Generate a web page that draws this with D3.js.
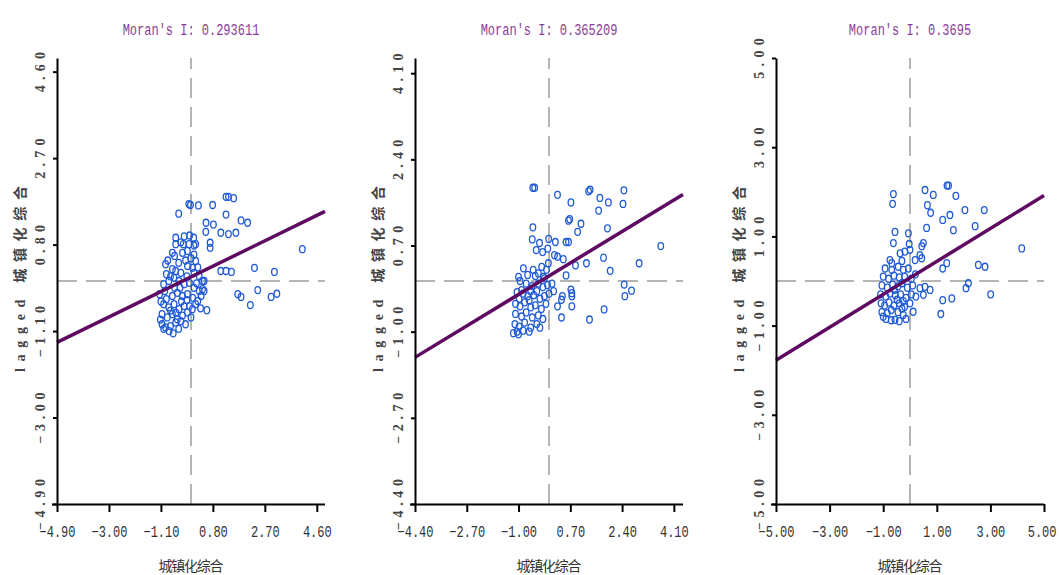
<!DOCTYPE html>
<html>
<head>
<meta charset="utf-8">
<script src="https://cdn.jsdelivr.net/npm/d3@7"></script>
<style>
  html, body { margin: 0; padding: 0; background: #fff; }
  svg { display: block; }
</style>
</head>
<body>
<svg id="chart" width="1060" height="575"></svg>
<script>
// Moran scatter plots: standardized 城镇化综合 (x) against its spatial lag (y)

const titles = ["Moran's I: 0.293611", "Moran's I: 0.365209", "Moran's I: 0.3695"];
const moranI = [0.293611, 0.365209, 0.3695];
const intercepts = [0.09, 0.10, 0.07];
const extents = [4.9, 4.4, 5.0];

const xTicks1 = [-4.9, -3.0, -1.1, 0.8, 2.7, 4.6];
const yTicks1 = [-4.9, -3.0, -1.1, 0.8, 2.7, 4.6];
const xTicks2 = [-4.4, -2.7, -1.0, 0.7, 2.4, 4.1];
const yTicks2 = [-4.4, -2.7, -1.0, 0.7, 2.4, 4.1];
const xTicks3 = [-5.0, -3.0, -1.0, 1.0, 3.0, 5.0];
const yTicks3 = [-5.0, -3.0, -1.0, 1.0, 3.0, 5.0];

const xLabel = "城镇化综合";
const yLabel = "lagged 城镇化综合";

const points1 = [
  [-0.45,1.48],[-0.08,1.69],[-0.02,1.67],[0.27,1.66],[0.79,1.67],[1.28,1.85],[1.37,1.85],[1.56,1.82],
  [1.28,1.46],[0.55,1.28],[0.82,1.24],[1.83,1.33],[2.07,1.28],[0.54,1.08],[1.09,1.06],[1.37,1.03],
  [1.64,1.06],[0.70,0.84],[0.70,0.73],[4.07,0.70],[1.09,0.22],[1.28,0.22],[1.48,0.20],[2.32,0.29],
  [3.05,0.20],[1.71,-0.29],[1.83,-0.35],[2.44,-0.20],[2.93,-0.35],[3.14,-0.28],[2.17,-0.53],[0.58,-0.64],
  [0.48,-0.22],[0.42,0.0],
  [-0.56,0.95],[-0.56,0.81],[-0.37,0.85],[-0.28,0.81],[-0.07,0.81],[0.11,0.78],[0.17,0.81],
  [-0.68,0.62],[-0.31,0.62],[-0.13,0.66],[0.11,0.58],[0.17,0.44],
  [-0.93,0.37],[-0.68,0.26],[-0.56,0.22],[-0.37,0.18],[-0.13,0.33],[0.06,0.29],[0.11,0.18],[0.30,0.11],[0.48,0.0],
  [-1.0,-0.07],[-0.81,0.0],[-0.62,0.07],[-0.44,0.0],[-0.25,-0.07],[-0.06,-0.04],[0.11,-0.15],[0.30,-0.22],[0.42,-0.18],
  [-1.15,-0.29],[-0.96,-0.22],[-0.68,-0.33],[-0.5,-0.26],[-0.31,-0.33],[-0.13,-0.29],[0.06,-0.37],[0.25,-0.44],[0.37,-0.33],
  [-1.0,-0.51],[-0.81,-0.58],[-0.62,-0.51],[-0.44,-0.62],[-0.25,-0.55],[-0.06,-0.55],[0.17,-0.51],
  [-1.06,-0.73],[-0.87,-0.8],[-0.68,-0.73],[-0.5,-0.84],[-0.31,-0.76],[-0.13,-0.69],[0.0,-0.80],
  [-1.06,-0.95],[-0.93,-1.02],[-0.75,-0.99],[-0.56,-0.91],[-0.37,-0.88],
  [-0.85,0.45],[-0.75,0.10],[-0.9,0.15],[-0.2,0.45],[-0.45,0.40],[0.0,0.50],[-0.6,-0.15],[-0.4,-0.15],
  [-0.15,0.10],[0.2,-0.05],[-1.1,-0.45],[-0.9,-0.40],[-0.75,-0.65],[-0.55,-0.70],[-0.35,-0.45],[-0.2,-0.95],
  [-0.15,-0.42],[0.05,-0.62],[-1.12,-0.85],[-0.8,-1.1],[-0.65,-1.15],[-0.45,-1.05],[-1.0,-1.05],[0.25,0.30],
  [0.35,-0.60],[-0.05,1.0],[-0.25,0.98],[-0.6,0.55],[0.1,0.95]
];

const points2 = [
  [-0.53,1.84],[-0.47,1.84],[0.28,1.70],[0.72,1.55],[1.30,1.77],[1.35,1.80],[1.67,1.64],[1.95,1.55],
  [2.46,1.79],[2.43,1.52],[1.63,1.39],[0.64,1.19],[0.68,1.22],[1.05,1.13],[0.94,0.97],[1.92,1.04],[-0.53,1.06],
  [-0.55,0.82],[-0.31,0.75],[-0.01,0.83],[0.21,0.77],[0.56,0.77],[0.64,0.77],
  [-0.42,0.61],[-0.21,0.57],[-0.04,0.64],[0.18,0.51],[0.28,0.48],[0.47,0.43],
  [3.67,0.69],[1.79,0.46],[1.23,0.35],[0.87,0.31],[2.01,0.20],[2.96,0.35],[0.56,0.11],
  [2.47,-0.07],[2.49,-0.30],[2.71,-0.19],[0.72,-0.17],[0.75,-0.24],[0.75,-0.30],[0.44,-0.30],[0.41,-0.37],
  [0.75,-0.50],[0.28,-0.50],[0.41,-0.72],[1.81,-0.56],[1.33,-0.76],
  [-0.84,0.25],[-0.52,0.22],[-0.35,0.15],[-0.24,0.28],[-0.08,0.22],[-0.02,0.35],[-0.19,0.08],
  [-0.95,0.0],[-0.75,-0.05],[-0.55,-0.1],[-0.35,-0.05],[-0.2,-0.12],[-0.05,-0.08],
  [-1.05,-0.22],[-0.85,-0.25],[-0.7,-0.3],[-0.5,-0.28],[-0.3,-0.35],[-0.15,-0.3],[0.0,-0.25],
  [-1.1,-0.45],[-0.95,-0.5],[-0.8,-0.42],[-0.6,-0.52],[-0.45,-0.48],[-0.25,-0.55],[-0.1,-0.45],
  [-1.1,-0.65],[-0.9,-0.7],[-0.75,-0.62],[-0.55,-0.72],[-0.35,-0.68],[-0.2,-0.75],
  [-1.12,-0.85],[-0.98,-0.9],[-0.8,-0.82],[-0.6,-0.92],[-0.4,-0.85],
  [-1.05,-1.0],[-0.85,-0.98],[-0.65,-1.0],[-1.17,-1.03],[-1.0,-1.05],
  [-0.9,-0.18],[-1.0,0.08],[-0.7,0.12],[-0.45,0.1],[-0.6,-0.2],[-0.4,-0.2],[-0.15,0.05],[0.1,-0.05],
  [0.15,-0.2],[-0.98,-0.35],[-0.65,-0.38],[-0.3,-0.92]
];

const points3 = [
  [-0.62,1.95],[-0.65,1.73],[0.56,2.04],[0.87,1.93],[1.38,2.14],[1.44,2.14],[1.71,1.91],[0.65,1.70],
  [0.77,1.53],[2.05,1.59],[2.77,1.59],[1.49,1.48],[1.22,1.37],[1.62,1.14],[2.43,1.23],[0.62,1.19],
  [4.17,0.73],[-0.56,1.1],[-0.06,1.07],[-0.62,0.85],[-0.03,0.83],[0.50,0.85],[0.44,0.78],
  [-0.37,0.62],[-0.19,0.66],[0.0,0.70],[0.37,0.58],[0.44,0.51],[0.19,0.47],
  [1.22,0.28],[1.37,0.40],[2.55,0.36],[2.80,0.32],
  [0.37,-0.16],[0.56,-0.13],[0.75,-0.20],[0.50,-0.31],[0.22,-0.35],[2.18,-0.05],[2.09,-0.16],[3.01,-0.30],
  [1.22,-0.43],[1.56,-0.39],[1.15,-0.74],[0.12,-0.69],[-0.25,-0.76],[-0.56,-0.87],[-1.0,-0.80],
  [-0.75,0.47],[-0.93,0.28],[-0.68,0.25],[-0.44,0.32],[-0.25,0.25],[-0.06,0.28],
  [-1.0,0.1],[-0.8,0.05],[-0.6,0.12],[-0.4,0.08],[-0.2,0.1],[0.05,0.05],[0.2,0.15],
  [-1.05,-0.1],[-0.85,-0.15],[-0.65,-0.08],[-0.45,-0.12],[-0.3,-0.05],[-0.1,-0.15],[0.1,-0.1],
  [-1.1,-0.3],[-0.9,-0.35],[-0.75,-0.28],[-0.55,-0.32],[-0.35,-0.3],[-0.15,-0.38],[0.05,-0.3],
  [-1.08,-0.5],[-0.95,-0.55],[-0.78,-0.48],[-0.6,-0.55],[-0.4,-0.5],[-0.2,-0.58],[0.0,-0.5],
  [-1.05,-0.7],[-0.85,-0.72],[-0.7,-0.65],[-0.45,-0.7],[-0.3,-0.62],
  [-0.9,-0.85],[-0.7,-0.88],[-0.4,-0.9],[-0.15,-0.85],[-0.58,-0.2],[-0.48,-0.42],[-0.25,-0.45],
  [-0.68,0.4],[-0.3,0.45]
];

const xTickSets = [xTicks1, xTicks2, xTicks3];
const yTickSets = [yTicks1, yTicks2, yTicks3];
const pointSets = [points1, points2, points3];

// layout
const width = 1060;
const plotLeft = [57, 415, 776];
const plotW = 268;
const plotTop = 58;
const plotBottom = 504;

const monoFont = "'Liberation Mono', 'DejaVu Sans Mono', monospace";
const serifFont = "'Liberation Serif', 'DejaVu Serif', serif";
const cjkFont = "'Noto Sans CJK SC', 'Noto Sans', sans-serif";
const fmt = d3.format(".2f");
const monoSize = 16;
const squeeze = 0.75;                 // narrow mono glyphs: 16px * 0.6 * 0.75 = 7.2px pitch
const charW = monoSize * 0.6 * squeeze;

const svg = d3.select("#chart");

for (let i = 0; i < 3; i++) {
  const ext = extents[i];
  const left = plotLeft[i];
  const x = d3.scaleLinear().domain([-ext, ext]).range([left, left + plotW]);
  const y = d3.scaleLinear().domain([-ext, ext]).range([plotBottom, plotTop]);
  const g = svg.append("g");

  // quadrant guides through the origin
  g.append("line")
    .attr("x1", x(-ext)).attr("x2", x(ext))
    .attr("y1", y(0)).attr("y2", y(0))
    .attr("stroke", "#6a6a6a").attr("stroke-width", 1)
    .attr("stroke-dasharray", "20,9");
  g.append("line")
    .attr("x1", x(0)).attr("x2", x(0))
    .attr("y1", y(-ext)).attr("y2", y(ext))
    .attr("stroke", "#6a6a6a").attr("stroke-width", 1)
    .attr("stroke-dasharray", "20,9");

  // observations
  g.append("g").selectAll("ellipse")
    .data(pointSets[i])
    .join("ellipse")
    .attr("cx", d => x(d[0]))
    .attr("cy", d => y(d[1]))
    .attr("rx", 2.8).attr("ry", 3.5)
    .attr("fill", "none")
    .attr("stroke", "#1f5ad6")
    .attr("stroke-width", 1.3);

  // regression line, slope = Moran's I
  const line = d3.line().x(d => x(d)).y(d => y(intercepts[i] + moranI[i] * d));
  g.append("path")
    .attr("d", line([-ext, ext]))
    .attr("stroke", "#5e0a62")
    .attr("stroke-width", 3.5)
    .attr("fill", "none");

  // x axis
  const xAxis = g.append("g")
    .attr("transform", `translate(0,${plotBottom})`)
    .call(d3.axisBottom(x).tickValues(xTickSets[i]).tickFormat(fmt).tickSize(8).tickSizeOuter(0));
  xAxis.select(".domain").attr("stroke", "#000").attr("stroke-width", 2)
    .attr("d", `M${left - 5},0.5H${left + plotW}`);
  xAxis.selectAll(".tick line").attr("stroke", "#000").attr("stroke-width", 2);
  xAxis.selectAll(".tick text")
    .attr("y", 33).attr("dy", null)
    .attr("font-family", monoFont).attr("font-size", monoSize)
    .attr("fill", "#333")
    .attr("transform", `scale(${squeeze},1)`)
    .attr("x", function(d) {
      // keep the last label inside the page
      const half = this.textContent.length * charW / 2;
      const over = x(d) + half - (width - 4);
      return over > 0 ? -over / squeeze : 0;
    });

  // y axis
  const yAxis = g.append("g")
    .attr("transform", `translate(${left},0)`)
    .call(d3.axisLeft(y).tickValues(yTickSets[i]).tickFormat(fmt).tickSize(4).tickSizeOuter(0));
  yAxis.select(".domain").attr("stroke", "#000").attr("stroke-width", 2);
  yAxis.selectAll(".tick line").attr("stroke", "#000").attr("stroke-width", 2);
  yAxis.selectAll(".tick text")
    .attr("x", null).attr("dy", null)
    .attr("transform", "translate(-17,0) rotate(-90)")
    .attr("text-anchor", "middle")
    .attr("dominant-baseline", "central")
    .attr("font-family", serifFont).attr("font-weight", "bold").attr("font-size", 14)
    .attr("fill", "#444")
    .attr("textLength", function() { return this.textContent.length * 10.6 - 2; })
    .attr("lengthAdjust", "spacing");

  // title
  const cx = left + plotW / 2;
  svg.append("text")
    .attr("transform", `translate(${cx},35) scale(${squeeze},1)`)
    .attr("text-anchor", "middle")
    .attr("font-family", monoFont).attr("font-size", monoSize)
    .attr("fill", "#8a3d99")
    .text(titles[i]);

  // axis titles
  svg.append("text")
    .attr("x", cx).attr("y", 571)
    .attr("text-anchor", "middle")
    .attr("font-family", cjkFont).attr("font-size", 14)
    .attr("fill", "#333")
    .attr("textLength", 65)
    .text(xLabel);

  svg.append("text")
    .attr("transform", `translate(${left - 37},${y(0) - 2}) rotate(-90)`)
    .attr("text-anchor", "middle")
    .attr("dominant-baseline", "central")
    .attr("font-family", `${serifFont.split(",")[0]}, ${cjkFont}`)
    .attr("font-weight", "bold")
    .attr("font-size", 14)
    .attr("fill", "#444")
    .attr("textLength", 186)
    .attr("lengthAdjust", "spacing")
    .text(yLabel);
}
</script>
</body>
</html>
